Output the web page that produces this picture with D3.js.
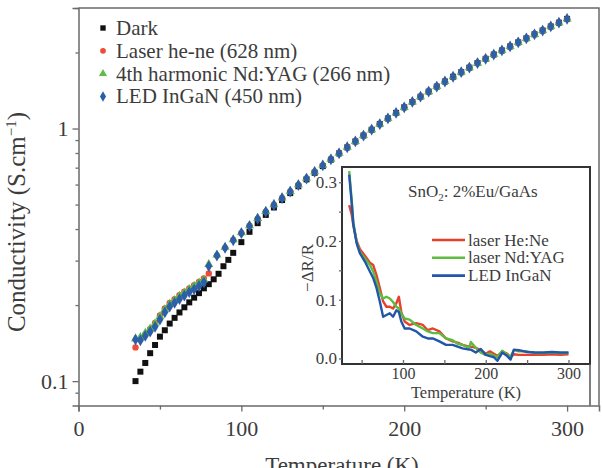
<!DOCTYPE html>
<html>
<head>
<meta charset="utf-8">
<script src="https://cdn.jsdelivr.net/npm/d3@7"></script>
<style>
  body { margin: 0; background: #fff; }
  svg { display: block; }
  svg text { font-family: "Liberation Serif", "Times New Roman", serif; }
</style>
</head>
<body>
<div id="chart"></div>
<script>
// main panel: conductivity vs temperature (log scale)
const darkT = [35, 38, 41, 44, 47, 50, 53, 56, 59, 62, 65, 68, 71, 74, 77, 80, 83, 86, 89, 92, 95,
  100, 105, 110, 115, 120, 125, 130, 135, 140, 145, 150, 155, 160, 165, 170, 175, 180, 185, 190, 195,
  200, 205, 210, 215, 220, 225, 230, 235, 240, 245, 250, 255, 260, 265, 270, 275, 280, 285, 290, 295, 300];
const darkVals = [0.100, 0.109, 0.118, 0.129, 0.139, 0.150, 0.159, 0.169, 0.178, 0.187, 0.196, 0.205, 0.214, 0.223, 0.233, 0.242, 0.253, 0.266, 0.285, 0.302, 0.322,
  0.355, 0.390, 0.422, 0.455, 0.487, 0.521, 0.555, 0.591, 0.629, 0.668, 0.710, 0.753, 0.797, 0.842, 0.889, 0.938, 0.989, 1.041, 1.096, 1.153,
  1.213, 1.274, 1.337, 1.400, 1.466, 1.535, 1.603, 1.671, 1.742, 1.816, 1.888, 1.963, 2.037, 2.113, 2.193, 2.275, 2.360, 2.443, 2.535, 2.624, 2.716];

const lightT = [35, 38, 41, 44, 47, 50, 53, 56, 59, 62, 65, 68, 71, 74, 77,
  80, 85, 90, 95, 100, 105, 110, 115, 120, 125, 130, 135, 140, 145, 150, 155, 160, 165, 170, 175, 180, 185, 190, 195,
  200, 205, 210, 215, 220, 225, 230, 235, 240, 245, 250, 255, 260, 265, 270, 275, 280, 285, 290, 295, 300];
const heneVals = [0.136, 0.146, 0.153, 0.161, 0.170, 0.182, 0.194, 0.204, 0.211, 0.219, 0.226, 0.233, 0.240, 0.247, 0.255,
  0.267, 0.314, 0.337, 0.362, 0.386, 0.412, 0.440, 0.469, 0.499, 0.531, 0.563, 0.598, 0.635, 0.674, 0.715, 0.755, 0.798, 0.843, 0.889, 0.938, 0.989, 1.041, 1.096, 1.153,
  1.213, 1.274, 1.337, 1.400, 1.466, 1.535, 1.603, 1.671, 1.742, 1.816, 1.888, 1.963, 2.037, 2.113, 2.193, 2.275, 2.360, 2.443, 2.535, 2.624, 2.716];
const yagVals = [0.147, 0.149, 0.155, 0.161, 0.169, 0.180, 0.192, 0.202, 0.209, 0.217, 0.224, 0.231, 0.238, 0.245, 0.252,
  0.290, 0.316, 0.339, 0.363, 0.387, 0.413, 0.441, 0.470, 0.500, 0.532, 0.564, 0.599, 0.636, 0.675, 0.716, 0.756, 0.799, 0.844, 0.890, 0.939, 0.990, 1.042, 1.097, 1.154,
  1.214, 1.275, 1.338, 1.401, 1.467, 1.536, 1.604, 1.672, 1.743, 1.817, 1.889, 1.964, 2.038, 2.114, 2.194, 2.276, 2.361, 2.444, 2.536, 2.625, 2.717];
const ledVals = [0.146, 0.145, 0.151, 0.157, 0.164, 0.175, 0.187, 0.197, 0.204, 0.211, 0.218, 0.225, 0.231, 0.238, 0.246,
  0.285, 0.314, 0.337, 0.361, 0.385, 0.411, 0.439, 0.468, 0.498, 0.530, 0.562, 0.597, 0.634, 0.673, 0.714, 0.755, 0.798, 0.843, 0.889, 0.938, 0.989, 1.041, 1.096, 1.153,
  1.213, 1.274, 1.337, 1.400, 1.466, 1.535, 1.603, 1.671, 1.742, 1.816, 1.888, 1.963, 2.037, 2.113, 2.193, 2.275, 2.360, 2.443, 2.535, 2.624, 2.716];

const legendLabels = ["Dark", "Laser he-ne (628 nm)", "4th harmonic Nd:YAG (266 nm)", "LED InGaN (450 nm)"];
const xTicks = [0, 100, 200, 300];
const xMinor = [50, 150, 250];
const yTicks = [0.1, 1];
const yMinor = [0.09, 0.2, 0.3, 0.4, 0.5, 0.6, 0.7, 0.8, 0.9, 2, 3];

// inset: -dR/R vs temperature
const insetT = [35, 38, 40, 44, 48, 54, 60, 64, 68, 72, 76, 80, 84, 88, 92, 95, 98, 102, 108, 116,
  124, 130, 136, 144, 152, 160, 166, 172, 180, 182, 188, 194, 200, 205, 210, 214, 220, 226, 230, 234,
  240, 250, 260, 270, 280, 290, 300];
const insetHeNe = [0.261, 0.245, 0.227, 0.200, 0.186, 0.175, 0.163, 0.159, 0.142, 0.120, 0.097, 0.088, 0.088, 0.085, 0.094, 0.105, 0.079, 0.063, 0.057, 0.060,
  0.057, 0.048, 0.051, 0.046, 0.034, 0.029, 0.027, 0.023, 0.020, 0.020, 0.018, 0.014, 0.008, 0.012, 0.008, 0.004, 0.012, 0.008, 0.002, 0.007,
  0.006, 0.006, 0.006, 0.006, 0.007, 0.006, 0.007];
const insetYAG = [0.319, 0.270, 0.232, 0.198, 0.181, 0.170, 0.159, 0.148, 0.131, 0.111, 0.102, 0.105, 0.102, 0.096, 0.088, 0.085, 0.076, 0.068, 0.066, 0.057,
  0.051, 0.046, 0.043, 0.043, 0.034, 0.031, 0.025, 0.023, 0.018, 0.028, 0.018, 0.010, 0.006, 0.008, 0.005, 0.002, 0.013, 0.006, 0.003, 0.014,
  0.012, 0.012, 0.009, 0.009, 0.010, 0.009, 0.009];
const insetLED = [0.313, 0.265, 0.228, 0.196, 0.179, 0.165, 0.148, 0.137, 0.120, 0.097, 0.071, 0.074, 0.077, 0.071, 0.082, 0.079, 0.063, 0.051, 0.051, 0.046,
  0.037, 0.034, 0.034, 0.029, 0.023, 0.023, 0.020, 0.017, 0.015, 0.015, 0.010, 0.016, 0.006, 0.004, 0.002, -0.004, 0.010, 0.004, -0.002, 0.015,
  0.014, 0.011, 0.010, 0.010, 0.011, 0.010, 0.010];
const insetLabels = ["laser He:Ne", "laser Nd:YAG", "LED InGaN"];
const insetXTicks = [100, 200, 300];
const insetXMinor = [50, 150, 250];
const insetYTicks = [0, 0.1, 0.2, 0.3];
const insetYMinor = [0.05, 0.15, 0.25];

const width = 602, height = 468;
const serif = '"Liberation Serif", "Times New Roman", serif';
const axisColor = "#6a6a6a", textColor = "#3c3c3c";

const svg = d3.select("#chart").append("svg").attr("width", width).attr("height", height);

const x = d3.scaleLinear().domain([0, 319.6]).range([78.5, 599]);
const y = d3.scaleLog().domain([0.08, 3]).range([405.6, 8]);

function styleAxis(g, fontSize) {
  g.attr("font-family", serif).attr("font-size", fontSize);
  g.select(".domain").attr("stroke", axisColor).attr("stroke-width", 1.5);
  g.selectAll(".tick line").attr("stroke", axisColor).attr("stroke-width", 1.3);
  g.selectAll(".tick text").attr("fill", textColor);
}

// frame top + right
svg.append("path")
  .attr("d", `M${x.range()[0]},${y.range()[1]}H${x.range()[1]}V${y.range()[0]}`)
  .attr("fill", "none").attr("stroke", axisColor).attr("stroke-width", 1.5);

// x axis
const gx = svg.append("g").attr("transform", `translate(0,${y.range()[0]})`)
  .call(d3.axisBottom(x).tickValues(xTicks).tickSize(6).tickPadding(9).tickFormat(d3.format("d")));
styleAxis(gx, 22);
const gxm = svg.append("g").attr("transform", `translate(0,${y.range()[0]})`)
  .call(d3.axisBottom(x).tickValues(xMinor).tickSize(4).tickFormat(""));
styleAxis(gxm, 22);
gxm.select(".domain").remove();

// y axis
const gy = svg.append("g").attr("transform", `translate(${x.range()[0]},0)`)
  .call(d3.axisLeft(y).tickValues(yTicks).tickSize(6).tickPadding(4).tickFormat(d => d === 1 ? "1" : "0.1"));
styleAxis(gy, 22);
const gym = svg.append("g").attr("transform", `translate(${x.range()[0]},0)`)
  .call(d3.axisLeft(y).tickValues(yMinor).tickSize(3).tickFormat(""));
styleAxis(gym, 22);
gym.select(".domain").remove();

// axis titles
svg.append("text")
  .attr("x", 342).attr("y", 473)
  .attr("text-anchor", "middle").attr("fill", textColor).attr("font-size", 23)
  .text("Temperature (K)");

const yTitle = svg.append("text")
  .attr("transform", "translate(25,222) rotate(-90)")
  .attr("text-anchor", "middle").attr("fill", textColor).attr("font-size", 25);
yTitle.append("tspan").text("Conductivity (S.cm");
yTitle.append("tspan").attr("dy", -9).attr("font-size", 15).text("\u22121");
yTitle.append("tspan").attr("dy", 9).text(")");

// inset
const inset = { left: 342, right: 590, top: 167, bottom: 364 };
const xi = d3.scaleLinear().domain([26.3, 326]).range([inset.left, inset.right]);
const yi = d3.scaleLinear().domain([-0.0095, 0.326]).range([inset.bottom, inset.top]);

svg.append("rect")
  .attr("x", inset.left).attr("y", inset.top)
  .attr("width", inset.right - inset.left).attr("height", inset.bottom - inset.top)
  .attr("fill", "#fff");

// main series
const mainSeries = [
  { t: darkT, v: darkVals, color: "#111111", symbol: d3.symbolSquare, size: 36 },
  { t: lightT, v: heneVals, color: "#ef4b36", symbol: d3.symbolCircle, size: 32 },
  { t: lightT, v: yagVals, color: "#5fbb4a", symbol: d3.symbolTriangle, size: 36 },
  { t: lightT, v: ledVals, color: "#2c5ea9", symbol: d3.symbolDiamond, size: 40 }
];

mainSeries.forEach(s => {
  svg.append("g").selectAll("path")
    .data(s.t.map((t, i) => ({ t: t, v: s.v[i] })))
    .join("path")
    .attr("transform", d => `translate(${x(d.t)},${y(d.v)})`)
    .attr("d", d3.symbol().type(s.symbol).size(s.size))
    .attr("fill", s.color);
});

// main legend
const legend = svg.append("g");
mainSeries.forEach((s, i) => {
  const ly = 28 + i * 22.8;
  legend.append("path")
    .attr("transform", `translate(103,${ly})`)
    .attr("d", d3.symbol().type(s.symbol).size(s.size * 0.8))
    .attr("fill", s.color);
  legend.append("text")
    .attr("x", 116).attr("y", ly + 7)
    .attr("fill", textColor).attr("font-size", 21)
    .text(legendLabels[i]);
});

// inset curves
const line = d3.line().x(d => xi(d.t)).y(d => yi(d.v));
const insetSeries = [
  { v: insetHeNe, color: "#e8402c" },
  { v: insetYAG, color: "#5dbb3f" },
  { v: insetLED, color: "#2355a8" }
];
insetSeries.forEach(s => {
  svg.append("path")
    .datum(insetT.map((t, i) => ({ t: t, v: s.v[i] })))
    .attr("d", line)
    .attr("fill", "none").attr("stroke", s.color).attr("stroke-width", 2.4)
    .attr("stroke-linejoin", "round");
});

// inset frame
svg.append("rect")
  .attr("x", inset.left).attr("y", inset.top)
  .attr("width", inset.right - inset.left).attr("height", inset.bottom - inset.top)
  .attr("fill", "none").attr("stroke", "#333").attr("stroke-width", 2);
svg.append("line")
  .attr("x1", inset.right).attr("x2", inset.right)
  .attr("y1", inset.bottom).attr("y2", y.range()[0])
  .attr("stroke", "#555").attr("stroke-width", 1.5);

// inset axes
const gxi = svg.append("g").attr("transform", `translate(0,${inset.bottom})`)
  .call(d3.axisBottom(xi).tickValues(insetXTicks).tickSize(-4).tickPadding(4).tickFormat(d3.format("d")));
styleAxis(gxi, 16);
gxi.select(".domain").remove();
const gxim = svg.append("g").attr("transform", `translate(0,${inset.bottom})`)
  .call(d3.axisBottom(xi).tickValues(insetXMinor).tickSize(-4).tickFormat(""));
styleAxis(gxim, 16);
gxim.select(".domain").remove();

const gyi = svg.append("g").attr("transform", `translate(${inset.left},0)`)
  .call(d3.axisLeft(yi).tickValues(insetYTicks).tickSize(3).tickPadding(2).tickFormat(d3.format(".1f")));
styleAxis(gyi, 17);
gyi.select(".domain").remove();
const gyim = svg.append("g").attr("transform", `translate(${inset.left},0)`)
  .call(d3.axisLeft(yi).tickValues(insetYMinor).tickSize(3).tickFormat(""));
styleAxis(gyim, 17);
gyim.select(".domain").remove();

svg.append("text")
  .attr("x", 466).attr("y", 398)
  .attr("text-anchor", "middle").attr("fill", textColor).attr("font-size", 16.5)
  .text("Temperature (K)");
svg.append("text")
  .attr("transform", "translate(313,268) rotate(-90)")
  .attr("text-anchor", "middle").attr("fill", textColor).attr("font-size", 17)
  .text("\u2212\u0394R/R");

// inset title
const title = svg.append("text")
  .attr("x", 408).attr("y", 197)
  .attr("fill", textColor).attr("font-size", 17);
title.append("tspan").text("SnO");
title.append("tspan").attr("dy", 4).attr("font-size", 11).text("2");
title.append("tspan").attr("dy", -4).text(": 2%Eu/GaAs");

// inset legend
insetSeries.forEach((s, i) => {
  const ly = 240 + i * 17.8;
  svg.append("line")
    .attr("x1", 432).attr("x2", 465).attr("y1", ly).attr("y2", ly)
    .attr("stroke", s.color).attr("stroke-width", 2.6);
  svg.append("text")
    .attr("x", 468).attr("y", ly + 5.5)
    .attr("fill", textColor).attr("font-size", 17)
    .text(insetLabels[i]);
});
</script>
</body>
</html>
